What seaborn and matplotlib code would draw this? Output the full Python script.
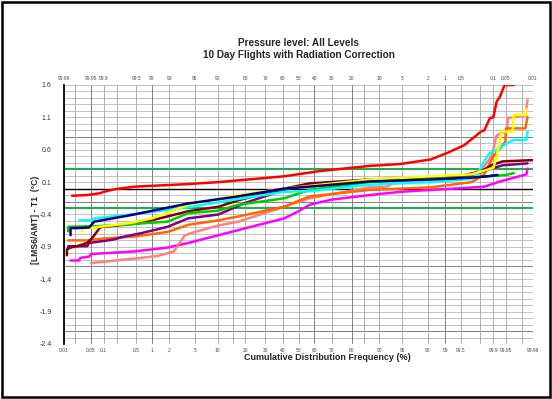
import numpy as np
import pandas as pd
import matplotlib
matplotlib.use("Agg")
import matplotlib.pyplot as plt
import seaborn as sns
from statistics import NormalDist

# cumulative frequency (%) and temperature difference (degC)
red_p = [0.0165, 0.04, 0.084, 0.1, 0.175, 0.47, 4.0, 10.2, 41, 63, 87, 94.7, 98.2, 99.11, 99.57,
         99.81, 99.84, 99.88, 99.9, 99.916, 99.93, 99.946, 99.968]
red_v = [-0.11, -0.10, -0.07, -0.05, -0.01, 0.03, 0.07, 0.10, 0.19, 0.27, 0.35, 0.38, 0.45, 0.555, 0.67,
         0.88, 0.90, 1.09, 1.10, 1.34, 1.42, 1.6, 1.6]

navy_p = [0.015, 0.015, 0.022, 0.045, 0.06, 0.39, 4.0, 17, 41, 57, 87, 98.2, 99.7, 99.86, 99.92]
navy_v = [-0.72, -0.61, -0.61, -0.60, -0.51, -0.41, -0.23, -0.12, 0.0, 0.03, 0.11, 0.14, 0.17, 0.19, 0.21]

yellow_p = [0.03, 0.03, 0.06, 0.39, 1.0, 4.0, 17, 41, 87, 98.2, 99.7, 99.9, 99.916, 99.936, 99.966,
            99.968, 99.984, 99.985]
yellow_v = [-0.66, -0.62, -0.60, -0.53, -0.46, -0.25, -0.10, 0.0, 0.14, 0.19, 0.22, 0.32, 0.49, 0.88, 0.88,
            1.14, 1.14, 1.23]

cyan_p = [0.025, 0.05, 0.06, 0.39, 4.0, 17, 41, 57, 87, 98.2, 99.7, 99.78, 99.84, 99.88, 99.936,
          99.952, 99.968, 99.985, 99.986]
cyan_v = [-0.49, -0.49, -0.46, -0.40, -0.29, -0.16, -0.05, -0.04, 0.06, 0.10, 0.15, 0.24, 0.43, 0.55, 0.64,
          0.70, 0.75, 0.75, 0.88]

green_p = [0.013, 0.013, 0.07, 0.39, 1.9, 4.0, 10.2, 17, 41, 57, 87, 98.2, 99.8, 99.95, 99.968]
green_v = [-0.66, -0.59, -0.58, -0.55, -0.51, -0.38, -0.34, -0.25, -0.15, -0.02, 0.10, 0.15, 0.18, 0.21, 0.24]

brown_p = [0.012, 0.012, 0.015, 0.022, 0.04, 0.054, 0.065, 0.08, 0.094, 0.2, 0.39, 1.0, 4.0, 10.2, 17,
           41, 57, 87, 98.2, 99.5, 99.8, 99.89, 99.94, 99.99]
brown_v = [-1.03, -0.94, -0.91, -0.89, -0.84, -0.76, -0.69, -0.61, -0.59, -0.57, -0.55, -0.49, -0.35, -0.28, -0.18,
           0.0, 0.08, 0.14, 0.17, 0.2, 0.26, 0.36, 0.42, 0.44]

purple_p = [0.013, 0.013, 0.04, 0.045, 0.16, 0.29, 0.62, 1.9, 4.0, 10.2, 20, 41, 57, 87, 98.2, 99.7,
            99.89, 99.94, 99.986]
purple_v = [-0.93, -0.89, -0.89, -0.84, -0.79, -0.74, -0.69, -0.59, -0.46, -0.40, -0.22, -0.02, 0.07, 0.13, 0.16, 0.2,
            0.31, 0.36, 0.39]

orange_p = [0.013, 0.045, 0.1, 0.47, 1.9, 4.0, 10.2, 17, 41, 57, 87, 98.2, 99.7, 99.84, 99.9, 99.93,
            99.948, 99.95, 99.984, 99.986]
orange_v = [-0.80, -0.80, -0.77, -0.74, -0.67, -0.56, -0.49, -0.43, -0.28, -0.12, -0.02, 0.02, 0.1, 0.22, 0.5, 0.62,
            0.72, 0.93, 0.93, 1.11]

salmon_p = [0.05, 0.47, 1.3, 2.4, 2.9, 3.6, 5.0, 10.2, 17, 41, 57, 87, 92, 94.7, 98.2, 99.7, 99.84,
            99.89, 99.916, 99.936, 99.952, 99.955, 99.978, 99.984, 99.986]
salmon_v = [-1.15, -1.08, -1.04, -0.97, -0.85, -0.72, -0.67, -0.57, -0.51, -0.28, -0.15, 0.02, 0.03, 0.14, 0.17, 0.2, 0.35,
            0.5, 0.82, 0.86, 0.88, 1.09, 1.12, 1.13, 1.37]

magenta_p = [0.015, 0.025, 0.027, 0.045, 0.05, 0.47, 1.9, 4.0, 10.2, 17, 41, 50, 57, 70, 87, 94.7,
             98.2, 99.6, 99.84, 99.93, 99.98, 99.985, 99.986]
magenta_v = [-1.11, -1.11, -1.07, -1.05, -1.01, -0.97, -0.91, -0.84, -0.72, -0.64, -0.46, -0.35, -0.25, -0.17, -0.10, -0.05,
             -0.02, 0.01, 0.03, 0.11, 0.20, 0.22, 0.31]

tick_pct = [0.01, 0.05, 0.1, 0.5, 1, 2, 5, 10, 20, 30, 40, 50, 60, 70, 80, 90, 95, 98, 99, 99.5, 99.9, 99.95, 99.99]
grid_pct = [0.01, 0.02, 0.05, 0.1, 0.2, 0.5, 1, 2, 5, 10, 15, 20, 30, 40, 50, 60, 70, 80, 85, 90, 95, 98, 99,
            99.5, 99.8, 99.9, 99.95, 99.98, 99.99]

series = {
    'magenta': (magenta_p, magenta_v),
    'salmon': (salmon_p, salmon_v),
    'orange': (orange_p, orange_v),
    'purple': (purple_p, purple_v),
    'brown': (brown_p, brown_v),
    'green': (green_p, green_v),
    'cyan': (cyan_p, cyan_v),
    'yellow': (yellow_p, yellow_v),
    'navy': (navy_p, navy_v),
    'red': (red_p, red_v),
}
colors = {'magenta': '#ff00ff', 'salmon': '#ff8080', 'orange': '#ff6600', 'purple': '#800080',
          'brown': '#800000', 'green': '#00cc00', 'cyan': '#00ffff', 'yellow': '#ffff00',
          'navy': '#000080', 'red': '#ff0000'}

nd = NormalDist()
def probit(p):
    return [nd.inv_cdf(x / 100.0) for x in p]

rows = []
for name, (p, v) in series.items():
    for zi, vi in zip(probit(p), v):
        rows.append((name, zi, vi))
df = pd.DataFrame(rows, columns=['series', 'z', 'value'])

sns.set_style("white")
plt.rcParams['font.family'] = ['Liberation Sans', 'DejaVu Sans']

fig = plt.figure(figsize=(5.52, 3.99), dpi=100)
ax = fig.add_axes([64 / 552, 1 - 344 / 399, (533 - 64) / 552, (344 - 85) / 399])

zlim = nd.inv_cdf(0.9999)
ax.set_xlim(-zlim, zlim)
ax.set_ylim(-2.4, 1.6)

# gridlines
for yv in np.arange(-2.4, 1.61, 0.1):
    ax.axhline(yv, color='#b8b8b8', lw=0.6, zorder=0)
for yv in [-2.2, -1.2, -0.2, 0.8]:
    ax.axhline(yv, color='#808080', lw=0.7, zorder=0)
for p in grid_pct:
    dark = p in (0.05, 1, 60, 80, 99)
    ax.axvline(nd.inv_cdf(p / 100), color='#808080' if dark else '#b0b0b0', lw=0.7, zorder=0)

ax.axhline(0, color='black', lw=1.0, zorder=1)
ax.axhline(0.3, color='#22aa55', lw=1.5, zorder=1)
ax.axhline(-0.3, color='#22aa55', lw=1.5, zorder=1)

sns.lineplot(data=df, x='z', y='value', hue='series', palette=colors, hue_order=list(series.keys()),
             sort=False, estimator=None, lw=1.8, legend=False, ax=ax, zorder=3)

ax.set_xticks(probit(tick_pct))
ax.set_xticklabels([f'{p:g}' for p in tick_pct], fontsize=3.5, color='#444444')
ax.set_yticks(np.arange(-2.4, 1.61, 0.5))
ax.set_yticklabels([f'{y:.1f}' for y in np.arange(-2.4, 1.61, 0.5)], fontsize=5, color='#333333')
ax.tick_params(axis='both', length=0)
ax.tick_params(axis='x', pad=3)
ax.tick_params(axis='y', pad=9)

top = ax.secondary_xaxis('top')
top.set_xticks(probit(tick_pct))
top.set_xticklabels([f'{100 - p:.2f}'.rstrip('0').rstrip('.') for p in tick_pct], fontsize=3.5, color='#444444')
top.tick_params(length=0, pad=3)
for s in top.spines.values():
    s.set_visible(False)

for s in ['top', 'right', 'bottom']:
    ax.spines[s].set_visible(False)
ax.spines['left'].set_color('black')
ax.spines['left'].set_linewidth(1.3)

ax.set_xlabel('Cumulative Distribution Frequency (%)', fontsize=6.5, fontweight='bold')
ax.xaxis.set_label_coords((327 - 64) / 469, -(358 - 344) / 259)
ax.xaxis.label.set_va('center')
ax.set_ylabel('[LMS6/AMT] - T1  (°C)', fontsize=6.2, fontweight='bold')
ax.yaxis.set_label_coords(-(64 - 36) / 469, (344 - 220) / 259)
ax.yaxis.label.set_va('center')

cx = (64 + 533) / 2 / 552
fig.text(cx, 1 - 43 / 399, 'Pressure level: All Levels', ha='center', va='center', fontsize=7.2, fontweight='bold')
fig.text(cx, 1 - 55 / 399, '10 Day Flights with Radiation Correction', ha='center', va='center', fontsize=7.2,
         fontweight='bold')

fig.patches.append(plt.Rectangle((0.004, 0.005), 0.992, 0.99, transform=fig.transFigure, fill=False,
                                 edgecolor='black', lw=1.8))

fig.savefig('out.png', dpi=100)
